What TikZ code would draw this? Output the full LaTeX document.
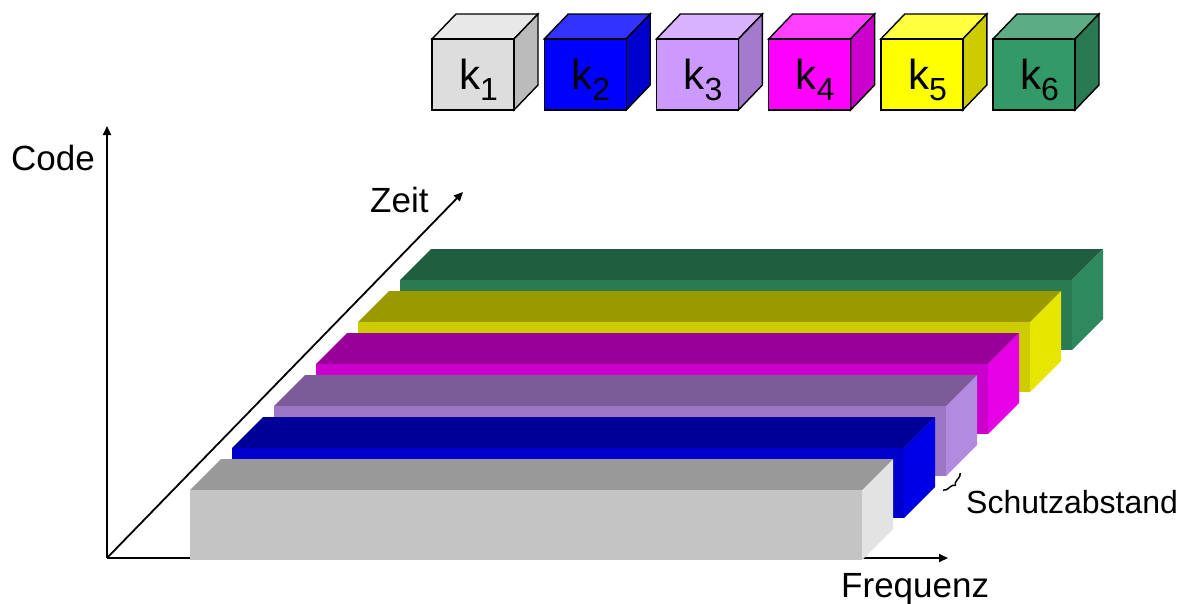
\documentclass[tikz,border=0pt]{standalone}
\usepackage{fontspec}
\setmainfont{Liberation Sans}
\usetikzlibrary{arrows.meta,decorations.pathreplacing}

% bar colours: front / top / side
\definecolor{grayF}{HTML}{C4C4C4}\definecolor{grayT}{HTML}{999999}\definecolor{grayS}{HTML}{E3E3E3}
\definecolor{blueF}{HTML}{0000CC}\definecolor{blueT}{HTML}{000099}\definecolor{blueS}{HTML}{0000E6}
\definecolor{violF}{HTML}{9B77C6}\definecolor{violT}{HTML}{7B5C99}\definecolor{violS}{HTML}{B28ADF}
\definecolor{magF}{HTML}{CC00CC}\definecolor{magT}{HTML}{990099}\definecolor{magS}{HTML}{E600E6}
\definecolor{oliF}{HTML}{CCCC00}\definecolor{oliT}{HTML}{999900}\definecolor{oliS}{HTML}{E6E600}
\definecolor{grnF}{HTML}{2A7A52}\definecolor{grnT}{HTML}{1F5F40}\definecolor{grnS}{HTML}{2E8A5E}
% code cube colours: front / top / side
\definecolor{c1F}{HTML}{DDDDDD}\definecolor{c1T}{HTML}{E8E8E8}\definecolor{c1S}{HTML}{BBBBBB}
\definecolor{c2F}{HTML}{0000FF}\definecolor{c2T}{HTML}{3333FF}\definecolor{c2S}{HTML}{0000CC}
\definecolor{c3F}{HTML}{CC99FF}\definecolor{c3T}{HTML}{D9B3FF}\definecolor{c3S}{HTML}{A37ACC}
\definecolor{c4F}{HTML}{FF00FF}\definecolor{c4T}{HTML}{FF40FF}\definecolor{c4S}{HTML}{CC00CC}
\definecolor{c5F}{HTML}{FFFF00}\definecolor{c5T}{HTML}{FFFF40}\definecolor{c5S}{HTML}{CCCC00}
\definecolor{c6F}{HTML}{339966}\definecolor{c6T}{HTML}{5CAD85}\definecolor{c6S}{HTML}{297A52}

\tikzset{
  axis/.style={line width=1.8pt, -{Triangle[length=9pt,width=8pt]}},
  axislabel/.style={anchor=base west, inner sep=0pt, font=\fontsize{35}{35}\selectfont},
  cubeface/.style={draw=black, line width=1.4pt, line join=miter},
  cubelabel/.style={anchor=base west, inner sep=0pt, font=\fontsize{42}{42}\selectfont},
}

\begin{document}
\begin{tikzpicture}[x=1pt, y=-1pt]
\useasboundingbox (0,0) rectangle (1191,603);

% axes (drawn first, the bars lie on top of the frequency axis)
\coordinate (O) at (107,558);
\coordinate (Ctip) at (107,126);
\coordinate (Ztip) at (463,192);
\coordinate (Ftip) at (948,558);
\draw[axis] (O) -- (Ctip);
\draw[axis] (O) -- (Ztip);
\draw[axis] (O) -- (Ftip);

% frequency bands, back to front: top face, side face, front face
\foreach \j/\c in {5/grn, 4/oli, 3/mag, 2/viol, 1/blue, 0/gray}{
  \pgfmathsetmacro{\xa}{190+42*\j}
  \pgfmathsetmacro{\ya}{490-42*\j}
  \pgfmathsetmacro{\xb}{\xa+672}
  \pgfmathsetmacro{\yb}{\ya+70}
  \fill[\c T] (\xa,\ya) -- (\xa+31,\ya-31) -- (\xb+31,\ya-31) -- (\xb,\ya) -- cycle;
  \fill[\c S] (\xb,\ya) -- (\xb+31,\ya-31) -- (\xb+31,\yb-31) -- (\xb,\yb) -- cycle;
  \fill[\c F] (\xa,\ya) rectangle (\xb,\yb);
}

% code cubes
\foreach \i in {1,...,6}{
  \pgfmathsetmacro{\xa}{432+112.2*(\i-1)}
  \pgfmathsetmacro{\xb}{\xa+82}
  \draw[cubeface, fill=c\i T] (\xa,39) -- (\xa+24,14) -- (\xb+24,14) -- (\xb,39) -- cycle;
  \draw[cubeface, fill=c\i S] (\xb,39) -- (\xb+24,14) -- (\xb+24,85) -- (\xb,110) -- cycle;
  \draw[cubeface, fill=c\i F] (\xa,39) rectangle (\xb,110);
  \node[cubelabel] (k\i) at (\xa+27,89) {k\raisebox{-11pt}{\fontsize{32}{32}\selectfont\i}};
}

% labels
\node[axislabel] (code) at (11,170) {Code};
\node[axislabel] (zeit) at (370,212) {Zeit};
\node[axislabel] (freq) at (841,597) {Frequenz};

% guard band marker
\coordinate (ga) at (960,473);
\coordinate (gb) at (943,490);
\draw[line width=1.5pt, decorate, decoration={brace, amplitude=5.5pt}] (ga) -- (gb);
\node[anchor=base west, inner sep=0pt, font=\fontsize{32}{32}\selectfont] (schutz) at (966,513) {Schutzabstand};
\end{tikzpicture}
\end{document}
